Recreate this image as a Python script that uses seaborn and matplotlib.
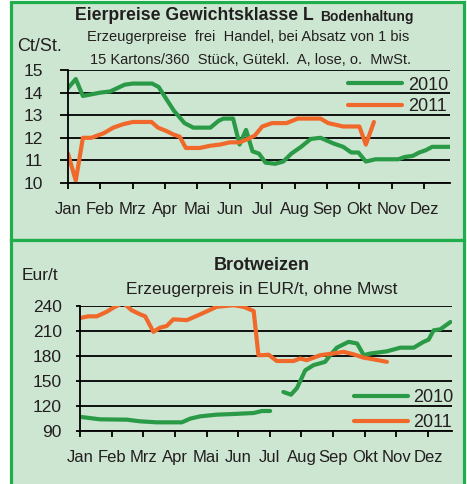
import pandas as pd
import seaborn as sns
import matplotlib.pyplot as plt
from matplotlib.patches import Rectangle

# Data (x in months, 0 = Jan)
months = ['Jan', 'Feb', 'Mrz', 'Apr', 'Mai', 'Jun', 'Jul', 'Aug', 'Sep', 'Okt', 'Nov', 'Dez']

egg_x_2010 = [0, 0.24, 0.46, 1.0, 1.3, 1.75, 2.0, 2.6, 2.8, 3.0, 3.27, 3.6, 3.87, 4.4, 4.65, 4.8, 5.1, 5.3, 5.5, 5.7,
              5.9, 6.1, 6.4, 6.65, 6.9, 7.2, 7.5, 7.8, 8.2, 8.5, 8.75, 8.97, 9.2, 9.5, 10.2, 10.4, 10.65, 10.85, 11.05, 11.25, 11.8]
egg_2010 = [14.2, 14.6, 13.85, 14.0, 14.05, 14.35, 14.4, 14.4, 14.25, 13.8, 13.2, 12.65, 12.45, 12.45, 12.75, 12.85, 12.85, 11.7, 12.35, 11.4,
            11.3, 10.9, 10.85, 10.95, 11.3, 11.6, 11.95, 12.0, 11.75, 11.6, 11.35, 11.35, 10.95, 11.05, 11.05, 11.15, 11.2, 11.35, 11.45, 11.6, 11.6]
egg_x_2011 = [0, 0.24, 0.46, 0.72, 1.1, 1.4, 1.7, 2.0, 2.58, 2.78, 3.04, 3.25, 3.45, 3.64, 4.07, 4.4, 4.7, 5.0, 5.3, 5.56,
              5.77, 6.0, 6.3, 6.75, 7.1, 7.8, 8.04, 8.5, 9.0, 9.2, 9.45]
egg_2011 = [11.3, 10.1, 12.0, 12.0, 12.2, 12.45, 12.6, 12.7, 12.7, 12.45, 12.3, 12.15, 12.05, 11.55, 11.55, 11.65, 11.7, 11.8, 11.8, 11.95,
            12.1, 12.5, 12.65, 12.65, 12.85, 12.85, 12.65, 12.5, 12.5, 11.7, 12.7]

wheat_x_2010 = [0, 0.63, 1.48, 1.9, 2.43, 3.22, 3.48, 3.8, 4.32, 4.85, 5.49, 5.75, 6.01,
                6.43, 6.67, 6.86, 7.12, 7.38, 7.75, 7.91, 8.12, 8.49, 8.76, 8.97, 9.18, 9.7, 10.13, 10.55, 10.86, 11.02, 11.18, 11.39, 11.71]
wheat_2010 = [107, 104, 103.6, 101.6, 100.4, 100.4, 104.8, 107.6, 109.6, 110.4, 111.6, 114, 114,
              136.8, 133.6, 141.6, 162.8, 169, 173, 181, 190, 197, 195, 181, 183, 185.6, 190, 190, 197, 199.6, 210.8, 212, 220.8]
# the 2010 line has a gap in July
wheat_seg_2010 = [0, 0, 0, 0, 0, 0, 0, 0, 0, 0, 0, 0, 0,
                  1, 1, 1, 1, 1, 1, 1, 1, 1, 1, 1, 1, 1, 1, 1, 1, 1, 1, 1, 1]
wheat_x_2011 = [0, 0.26, 0.53, 0.84, 1.1, 1.32, 1.42, 1.63, 1.9, 2.06, 2.32, 2.53, 2.74, 2.95, 3.38, 3.8, 4.32, 4.85, 5.17, 5.49,
                5.64, 5.8, 5.96, 6.22, 6.75, 6.96, 7.17, 7.6, 8.0, 8.33, 8.65, 8.97, 9.28, 9.7]
wheat_2011 = [225.6, 227.6, 227.6, 233, 239, 243, 242, 235, 230, 227.6, 209, 214, 216, 224, 223, 230, 239, 241, 239, 234,
              181, 181, 181.6, 174, 174, 177, 175, 181, 183, 185, 182, 178, 176, 173]

egg_df = pd.concat([
    pd.DataFrame({'month': egg_x_2010, 'value': egg_2010, 'year': '2010'}),
    pd.DataFrame({'month': egg_x_2011, 'value': egg_2011, 'year': '2011'}),
])
wheat_df = pd.concat([
    pd.DataFrame({'month': wheat_x_2010, 'value': wheat_2010, 'year': '2010', 'seg': wheat_seg_2010}),
    pd.DataFrame({'month': wheat_x_2011, 'value': wheat_2011, 'year': '2011', 'seg': 0}),
])

sns.set_style('white')
plt.rcParams['font.family'] = ['Liberation Sans', 'DejaVu Sans']
plt.rcParams['text.color'] = '#231f20'

BG = '#cde6d2'
BORDER = '#1fae4b'
palette = {'2010': '#2a9a47', '2011': '#f0692a'}
W, H = 467, 484

fig = plt.figure(figsize=(W / 100, H / 100), dpi=100, facecolor='white')

def fx(px):
    return px / W

def fy(py):
    return 1 - py / H

# panel frames, kept behind the axes
for top, bottom in [(1.5, 240), (240, 486)]:
    fig.patches.append(Rectangle((fx(10.5), fy(bottom)), fx(453), (bottom - top) / H,
                                 transform=fig.transFigure, facecolor=BG, edgecolor=BORDER,
                                 linewidth=2.3, zorder=-5))

ax1 = fig.add_axes([fx(68), fy(183), fx(450 - 68), (183 - 70) / H])
ax2 = fig.add_axes([fx(80), fy(431), fx(452 - 80), (431 - 306) / H])

sns.lineplot(data=egg_df, x='month', y='value', hue='year', hue_order=['2010', '2011'], palette=palette,
             estimator=None, sort=False, linewidth=3, ax=ax1)
sns.lineplot(data=wheat_df, x='month', y='value', hue='year', hue_order=['2010', '2011'], palette=palette,
             units='seg', estimator=None, sort=False, linewidth=3, ax=ax2)

def style_axis(ax, yticks, xmax, ylen, ypad):
    ax.set_facecolor('none')
    ax.set_xlim(0, xmax)
    ax.set_ylim(yticks[0], yticks[-1])
    ax.set_yticks(yticks)
    ax.set_xticks(range(12))
    ax.set_xticklabels(months)
    ax.set_xlabel('')
    ax.set_ylabel('')
    ax.yaxis.grid(True, color='black', linewidth=1.3)
    ax.set_axisbelow(True)
    for s in ['top', 'right']:
        ax.spines[s].set_visible(False)
    for s in ['left', 'bottom']:
        ax.spines[s].set_color('black')
        ax.spines[s].set_linewidth(1.3)
    ax.tick_params(axis='x', bottom=True, direction='out', length=4, width=1.3, color='black',
                   pad=10, labelsize=12, labelcolor='#231f20')
    ax.tick_params(axis='y', left=True, direction='out', length=ylen, width=1.3, color='black',
                   pad=ypad, labelsize=12.5, labelcolor='#231f20')
    handles, labels = ax.get_legend_handles_labels()
    ax.get_legend().remove()
    return handles, labels

h1, l1 = style_axis(ax1, [10, 11, 12, 13, 14, 15], 11.8, 6, 12)
h2, l2 = style_axis(ax2, [90, 120, 150, 180, 210, 240], 11.76, 3, 10)

ax1.legend(h1, l1, loc='upper right', bbox_to_anchor=(0.995, 0.94), frameon=False, fontsize=13,
           handlelength=3.0, handletextpad=0.3, labelspacing=0.25, borderpad=0, borderaxespad=0)
ax2.legend(h2, l2, loc='lower right', bbox_to_anchor=(1.005, 0.0), frameon=False, fontsize=13,
           handlelength=3.0, handletextpad=0.3, labelspacing=0.45, borderpad=0, borderaxespad=0)

# titles and units
fig.text(fx(75), fy(20.5), 'Eierpreise Gewichtsklasse L', fontsize=12.7, fontweight='bold', va='baseline')
fig.text(fx(320), fy(20.5), 'Bodenhaltung', fontsize=10, fontweight='bold', va='baseline')
fig.text(fx(248), fy(41.5), 'Erzeugerpreise  frei  Handel, bei Absatz von 1 bis', fontsize=10.5,
         ha='center', va='baseline')
fig.text(fx(250), fy(64), '15 Kartons/360  Stück, Gütekl.  A, lose, o.  MwSt.', fontsize=10.5,
         ha='center', va='baseline')
fig.text(fx(17), fy(51), 'Ct/St.', fontsize=13, va='baseline')

fig.text(fx(262), fy(270.5), 'Brotweizen', fontsize=13, fontweight='bold', ha='center', va='baseline')
fig.text(fx(262), fy(294), 'Erzeugerpreis in EUR/t, ohne Mwst', fontsize=12.5, ha='center', va='baseline')
fig.text(fx(22), fy(280), 'Eur/t', fontsize=12.5, va='baseline')

fig.savefig('out.png', dpi=100, facecolor='white')
